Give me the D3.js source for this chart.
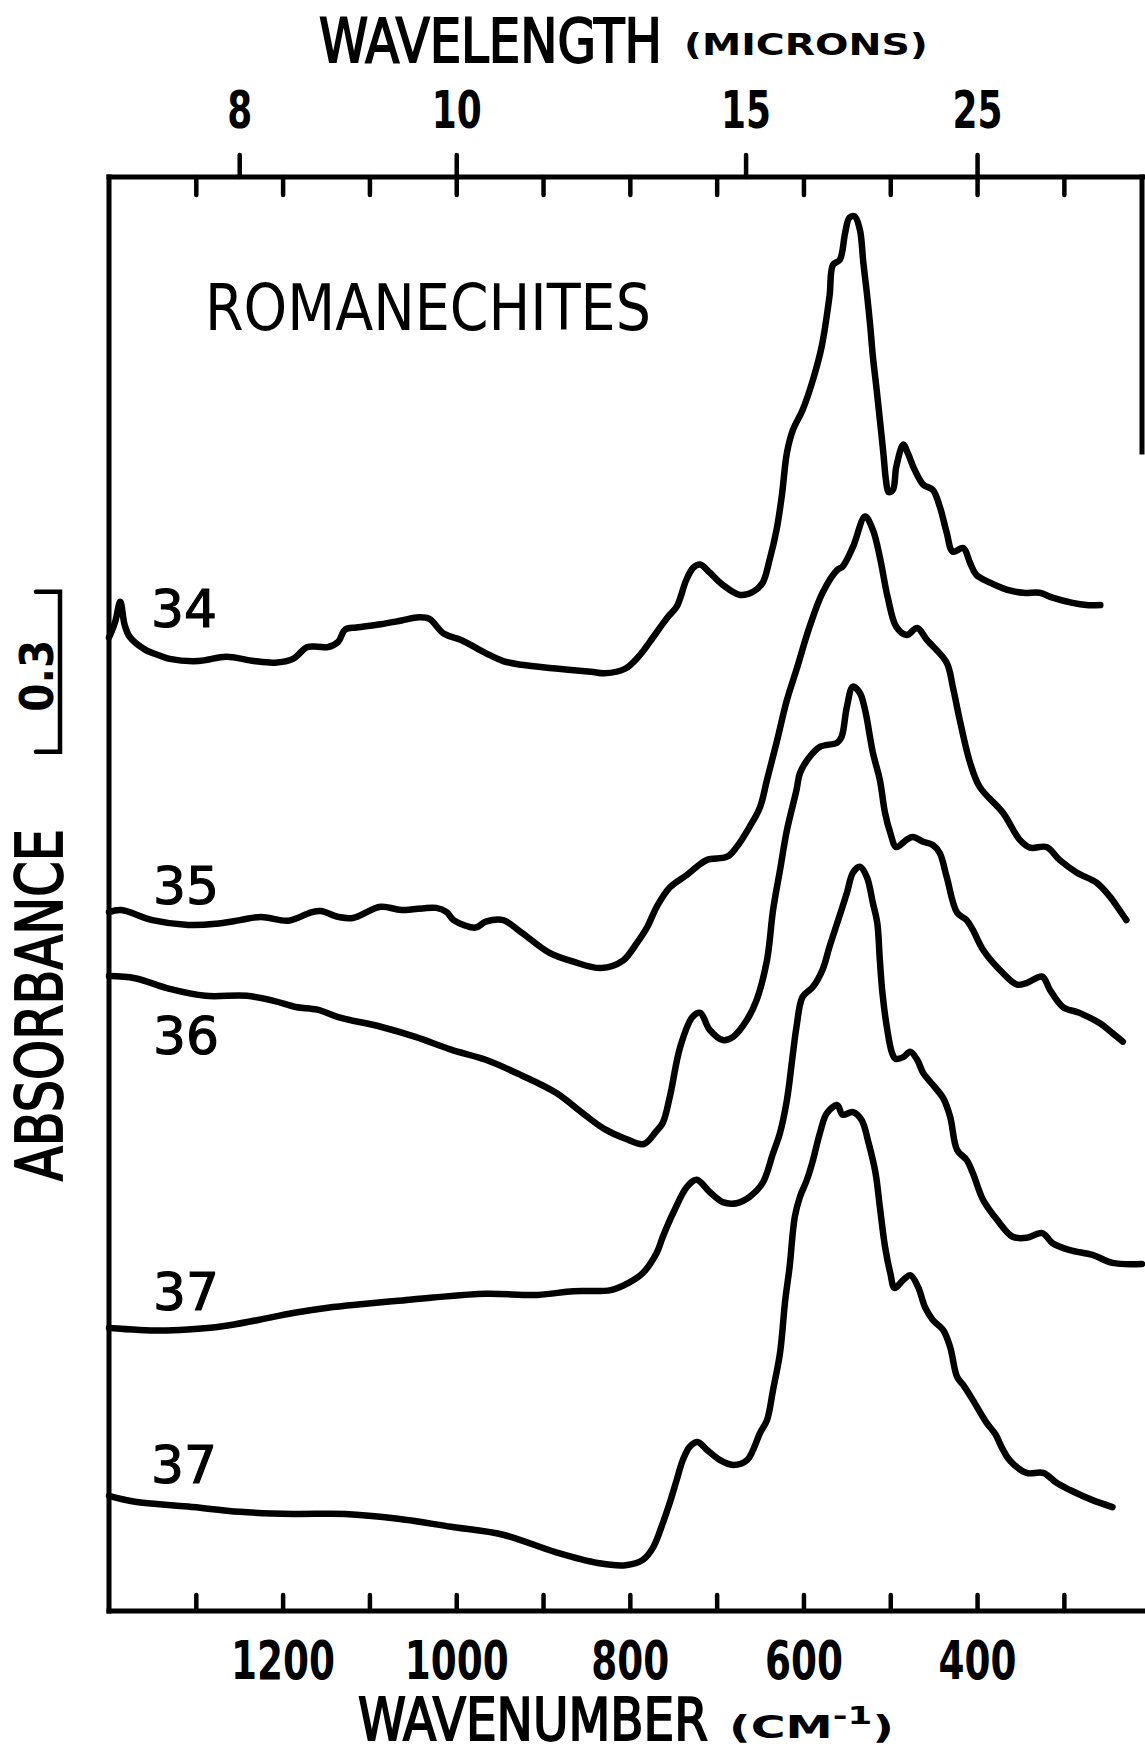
<!DOCTYPE html>
<html><head><meta charset="utf-8">
<script src="https://cdn.jsdelivr.net/npm/d3@7"></script>
<style>
html,body{margin:0;padding:0;background:#fff;}
svg{display:block;}
</style></head><body>
<svg id="chart" width="1145" height="1755"></svg>
<script>
// ---------- data (wavenumber cm-1, absorbance incl. vertical offset) ----------
const wnTicks = [1300,1200,1100,1000,900,800,700,600,500,400,300];
const wnLabels = [1200,1000,800,600,400];
const umTicks = [8,10,15,25];
const seriesLabels = ["34","35","36","37","37"];
const scaleBarBase = 1.612, scaleBarSize = 0.3;

const s34 = [[1400,1.826],[1393,1.855],[1387,1.893],[1382,1.850],[1376,1.827],[1358,1.803],[1341,1.792],[1330,1.786],[1297,1.782],[1265,1.790],[1233,1.782],[1209,1.779],[1188,1.786],[1172,1.808],[1160,1.809],[1148,1.808],[1136,1.818],[1128,1.841],[1115,1.845],[1087,1.851],[1063,1.858],[1043,1.864],[1031,1.861],[1014,1.833],[995,1.822],[966,1.797],[946,1.782],[925,1.775],[885,1.768],[845,1.762],[829,1.759],[805,1.768],[788,1.794],[777,1.818],[756,1.865],[746,1.884],[735,1.934],[727,1.957],[719,1.963],[708,1.948],[693,1.925],[673,1.906],[658,1.912],[647,1.929],[639,1.972],[631,2.028],[625,2.091],[619,2.173],[612,2.216],[601,2.253],[589,2.310],[579,2.372],[570,2.466],[566,2.525],[558,2.535],[552,2.585],[547,2.614],[541,2.616],[535,2.591],[531,2.529],[527,2.473],[523,2.409],[520,2.353],[516,2.296],[512,2.235],[508,2.173],[505,2.122],[502,2.099],[497,2.103],[493,2.147],[485,2.188],[480,2.173],[472,2.141],[462,2.113],[451,2.103],[443,2.072],[435,2.023],[428,1.987],[416,1.994],[408,1.966],[401,1.944],[385,1.929],[366,1.916],[347,1.910],[328,1.910],[313,1.901],[290,1.891],[274,1.887],[258,1.887]];

const s35 = [[1400,1.311],[1386,1.315],[1350,1.296],[1309,1.287],[1277,1.289],[1249,1.296],[1225,1.302],[1193,1.295],[1168,1.310],[1156,1.313],[1136,1.302],[1119,1.300],[1087,1.321],[1063,1.315],[1023,1.319],[1011,1.311],[1003,1.296],[978,1.282],[966,1.293],[946,1.296],[925,1.273],[893,1.235],[865,1.218],[833,1.206],[808,1.220],[792,1.253],[780,1.283],[769,1.321],[754,1.357],[734,1.381],[723,1.396],[711,1.409],[688,1.415],[677,1.433],[662,1.471],[650,1.508],[642,1.559],[631,1.629],[619,1.709],[608,1.766],[593,1.846],[578,1.910],[561,1.953],[555,1.959],[543,1.996],[529,2.053],[520,2.028],[512,1.977],[503,1.902],[493,1.846],[481,1.831],[469,1.844],[458,1.822],[435,1.779],[428,1.734],[420,1.672],[408,1.591],[397,1.546],[370,1.497],[351,1.447],[339,1.432],[320,1.433],[305,1.409],[285,1.385],[262,1.366],[247,1.340],[236,1.315],[228,1.296]];

const s36 = [[1400,1.191],[1370,1.187],[1330,1.167],[1289,1.154],[1241,1.154],[1209,1.144],[1185,1.133],[1160,1.128],[1136,1.114],[1087,1.096],[1047,1.077],[1006,1.053],[966,1.034],[925,1.005],[885,0.972],[853,0.932],[829,0.904],[805,0.886],[784,0.876],[770,0.899],[762,0.916],[754,0.964],[742,1.058],[728,1.114],[719,1.122],[708,1.090],[693,1.071],[681,1.077],[665,1.109],[654,1.146],[642,1.221],[635,1.315],[627,1.390],[619,1.465],[608,1.540],[604,1.572],[593,1.602],[581,1.621],[561,1.629],[556,1.640],[550,1.696],[543,1.734],[535,1.722],[529,1.690],[520,1.610],[512,1.559],[506,1.497],[500,1.460],[493,1.433],[481,1.447],[474,1.452],[462,1.443],[451,1.437],[443,1.422],[435,1.377],[423,1.310],[412,1.296],[405,1.278],[393,1.240],[374,1.203],[354,1.175],[343,1.178],[325,1.190],[316,1.165],[301,1.133],[282,1.122],[259,1.103],[244,1.084],[232,1.068]];

const s37a = [[1400,0.531],[1342,0.526],[1309,0.528],[1269,0.534],[1228,0.546],[1188,0.559],[1148,0.569],[1107,0.576],[1067,0.582],[1027,0.588],[966,0.595],[906,0.593],[865,0.600],[822,0.602],[802,0.615],[785,0.634],[769,0.672],[762,0.702],[750,0.747],[734,0.796],[723,0.809],[708,0.786],[693,0.767],[677,0.765],[662,0.777],[647,0.803],[635,0.859],[627,0.897],[619,0.959],[613,1.034],[608,1.096],[601,1.152],[589,1.171],[578,1.203],[570,1.246],[560,1.296],[550,1.347],[543,1.385],[535,1.396],[527,1.377],[520,1.328],[515,1.291],[512,1.221],[509,1.159],[504,1.096],[498,1.047],[494,1.036],[485,1.039],[477,1.049],[469,1.034],[462,1.009],[451,0.987],[439,0.962],[431,0.927],[423,0.865],[412,0.846],[405,0.822],[393,0.771],[377,0.734],[359,0.702],[343,0.700],[325,0.709],[313,0.690],[293,0.677],[267,0.668],[244,0.653],[210,0.651]];

const s37b = [[1400,0.216],[1370,0.205],[1309,0.196],[1249,0.186],[1188,0.182],[1128,0.182],[1067,0.173],[1006,0.158],[946,0.143],[885,0.110],[837,0.090],[805,0.086],[785,0.096],[773,0.120],[762,0.165],[754,0.203],[746,0.246],[739,0.283],[731,0.308],[722,0.317],[711,0.302],[696,0.283],[681,0.274],[665,0.283],[650,0.334],[642,0.358],[635,0.415],[627,0.484],[621,0.583],[616,0.645],[610,0.739],[604,0.777],[596,0.809],[589,0.846],[581,0.897],[573,0.934],[561,0.949],[555,0.931],[543,0.936],[533,0.921],[525,0.878],[517,0.822],[512,0.758],[506,0.683],[500,0.634],[495,0.606],[485,0.621],[477,0.630],[468,0.608],[460,0.570],[451,0.546],[439,0.527],[431,0.495],[423,0.439],[416,0.424],[405,0.396],[389,0.353],[379,0.332],[371,0.305],[362,0.282],[343,0.259],[324,0.259],[308,0.240],[293,0.227],[267,0.208],[244,0.195]];

const allSeries = [s34, s35, s36, s37a, s37b];

// ---------- drawing ----------
const fCond = "'DejaVu Sans Condensed','DejaVu Sans',sans-serif";
const fReg = "'DejaVu Sans',sans-serif";
const svg = d3.select('#chart');
svg.append('rect').attr('width',1145).attr('height',1755).attr('fill','#fff');

const x = d3.scaleLinear().domain([1400,210]).range([109,1142]);
const y = d3.scaleLinear().domain([0,2.69]).range([1611,177]);
const yTop = y.range()[1], yBot = y.range()[0];

// place a text and squeeze it horizontally (along its direction) to a target width
function fitText(opts){
  const g = svg.append('g');
  const t = g.append('text').attr('x',0).attr('y',0)
    .attr('font-family',opts.family).attr('font-size',opts.size)
    .attr('font-weight',opts.weight||'normal').attr('fill','#000')
    .attr('text-anchor',opts.anchor||'start');
  if (opts.stroke) t.attr('stroke','#000').attr('stroke-width',opts.stroke);
  if (opts.build) opts.build(t); else t.text(opts.text);
  const L = t.node().getComputedTextLength();
  const s = L > 0 ? opts.width / L : 1;
  g.attr('transform',`translate(${opts.x},${opts.y}) rotate(${opts.rot||0}) scale(${s},1)`);
  return g;
}

function styleTicks(g){
  g.select('.domain').remove();
  g.selectAll('.tick line').attr('stroke','#000').attr('stroke-width',4.5).attr('stroke-linecap','round');
}

// bottom axis (wavenumber)
const gB = svg.append('g').attr('transform',`translate(0,${yBot})`)
  .call(d3.axisBottom(x).tickValues(wnTicks).tickSizeInner(-16).tickSizeOuter(0).tickPadding(0)
    .tickFormat(d => wnLabels.includes(d) ? String(d) : ''));
styleTicks(gB);
gB.selectAll('.tick text')
  .attr('y',68).attr('dy',null)
  .attr('font-family',fCond).attr('font-weight','bold').attr('font-size',53).attr('fill','#000')
  .each(function(d){ if (wnLabels.includes(d)) d3.select(this).attr('textLength',String(d).length*26).attr('lengthAdjust','spacingAndGlyphs'); });

// top axis inward ticks (same wavenumber grid)
const gT = svg.append('g').attr('transform',`translate(0,${yTop})`)
  .call(d3.axisTop(x).tickValues(wnTicks).tickSizeInner(-18).tickSizeOuter(0).tickFormat(''));
styleTicks(gT);

// top axis outward ticks (wavelength, microns)
const gU = svg.append('g').attr('transform',`translate(0,${yTop})`)
  .call(d3.axisTop(x).tickValues(umTicks.map(u => 1e4/u)).tickSizeInner(22).tickSizeOuter(0).tickPadding(0)
    .tickFormat(d => String(Math.round(1e4/d))));
styleTicks(gU);
gU.selectAll('.tick text')
  .attr('y',-49).attr('dy',null)
  .attr('font-family',fCond).attr('font-weight','bold').attr('font-size',52).attr('fill','#000')
  .each(function(d){ const s=String(Math.round(1e4/d)); d3.select(this).attr('textLength',s.length*25).attr('lengthAdjust','spacingAndGlyphs'); });

// frame
const frame = svg.append('g').attr('stroke','#000').attr('stroke-width',5).attr('fill','none').attr('stroke-linecap','square');
frame.append('line').attr('x1',x(1400)).attr('x2',x(1400)).attr('y1',yTop).attr('y2',yBot);
frame.append('line').attr('x1',x(1400)).attr('x2',1145).attr('y1',yTop).attr('y2',yTop);
frame.append('line').attr('x1',x(1400)).attr('x2',1145).attr('y1',yBot).attr('y2',yBot);
frame.append('line').attr('x1',x(210)).attr('x2',x(210)).attr('y1',yTop).attr('y2',452);

// spectra
const line = d3.line().x(d => x(d[0])).y(d => y(d[1])).curve(d3.curveCatmullRom.alpha(0.5));
svg.append('g').selectAll('path').data(allSeries).join('path')
  .attr('d', line).attr('fill','none').attr('stroke','#000').attr('stroke-width',6.5)
  .attr('stroke-linejoin','round').attr('stroke-linecap','round');

// curve labels
const labelPos = [[151,627],[153,904],[153,1054],[153,1310],[151,1483]];
svg.append('g').selectAll('text').data(seriesLabels).join('text')
  .attr('x',(d,i)=>labelPos[i][0]).attr('y',(d,i)=>labelPos[i][1])
  .attr('font-family',fReg).attr('font-size',52).attr('fill','#000')
  .attr('stroke','#000').attr('stroke-width',1.2)
  .attr('textLength',66).attr('lengthAdjust','spacingAndGlyphs')
  .text(d=>d);

// title inside
fitText({x:205, y:330, family:fCond, size:64, width:446, text:'ROMANECHITES'});

// axis titles
fitText({x:319, y:62, family:fCond, size:60, stroke:1.8, width:343, text:'WAVELENGTH'});
fitText({x:684, y:55, family:fCond, size:30, weight:'bold', width:244, text:'(MICRONS)'});

fitText({x:358, y:1740, family:fCond, size:58, stroke:1.8, width:350, text:'WAVENUMBER'});
fitText({x:729, y:1738, family:fCond, size:32, weight:'bold', width:165, build: t => {
  t.append('tspan').text('(CM');
  t.append('tspan').attr('font-size',24).attr('dy',-14).text('-1');
  t.append('tspan').attr('dy',14).text(')');
}});

fitText({x:62, y:1005, rot:-90, anchor:'middle', family:fCond, size:64, stroke:1.8, width:352, text:'ABSORBANCE'});

// scale bar 0.3
const yb0 = y(scaleBarBase), yb1 = y(scaleBarBase + scaleBarSize);
svg.append('path').attr('d',`M36,${yb1}H60V${yb0}H36`).attr('fill','none').attr('stroke','#000').attr('stroke-width',4.5).attr('stroke-linecap','round');
fitText({x:53, y:(yb0+yb1)/2 + 4, rot:-90, anchor:'middle', family:fCond, size:46, weight:'bold', width:72, text:'0.3'});
</script>
</body></html>
